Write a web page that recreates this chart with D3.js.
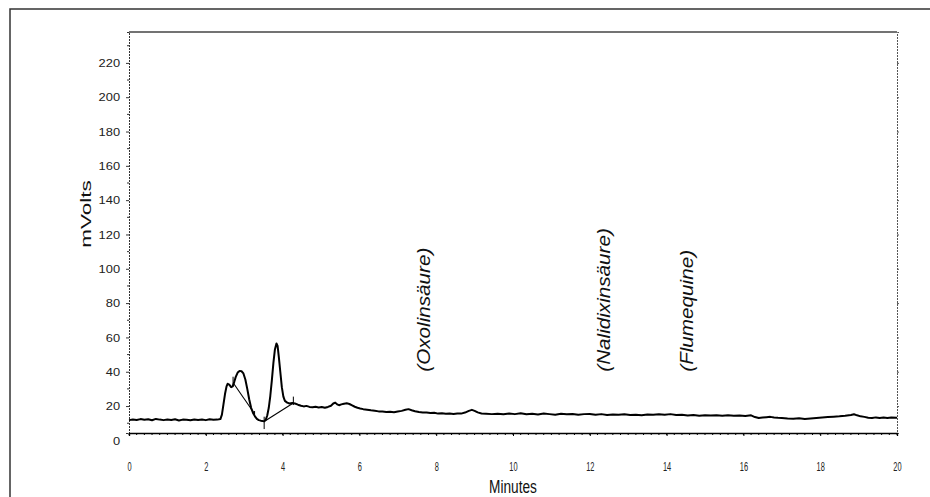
<!DOCTYPE html>
<html>
<head>
<meta charset="utf-8">
<script src="https://cdn.jsdelivr.net/npm/d3@7"></script>
<style>
  body { margin: 0; background: #fff; }
  svg { display: block; font-family: "Liberation Sans", Arial, sans-serif; }
</style>
</head>
<body>
<svg class="chromatogram"></svg>
<script>
// trace (minutes, mVolts)
var times = [0, 0.1, 0.2, 0.3, 0.4, 0.5, 0.6, 0.7, 0.8, 0.9, 1.0, 1.1, 1.2, 1.3, 1.4, 1.5, 1.6, 1.7, 1.8, 1.9, 2.0, 2.1, 2.2, 2.3, 2.38,
	2.42, 2.46, 2.50, 2.54, 2.57, 2.61, 2.66, 2.70, 2.74, 2.78, 2.83, 2.88, 2.93, 2.98, 3.03, 3.08, 3.13, 3.18, 3.23, 3.28, 3.33, 3.38, 3.43, 3.48, 3.52,
	3.56, 3.60, 3.64, 3.68, 3.72, 3.76, 3.80, 3.84, 3.87, 3.90, 3.94, 3.98, 4.02, 4.06, 4.12, 4.18, 4.25, 4.32, 4.40, 4.48, 4.55, 4.62, 4.70, 4.78, 4.86, 4.94,
	5.02, 5.10, 5.18, 5.26, 5.32, 5.37, 5.42, 5.47, 5.53, 5.60, 5.67, 5.74, 5.81, 5.88, 5.95, 6.02, 6.10, 6.20, 6.30, 6.40, 6.50, 6.60, 6.70, 6.80, 6.90,
	7.00, 7.10, 7.20, 7.28, 7.36, 7.45, 7.55, 7.65, 7.75, 7.85, 7.95, 8.05, 8.15, 8.25, 8.35, 8.45, 8.55, 8.65, 8.75, 8.85, 8.93, 9.00, 9.08, 9.18, 9.30,
	9.45, 9.60, 9.75, 9.90, 10.05, 10.20, 10.35, 10.50, 10.65, 10.80, 10.95, 11.10, 11.25, 11.40, 11.55, 11.70, 11.85, 12.00, 12.15, 12.30, 12.45, 12.60,
	12.75, 12.90, 13.05, 13.20, 13.35, 13.50, 13.65, 13.80, 13.95, 14.10, 14.25, 14.40, 14.55, 14.70, 14.85, 15.00, 15.15, 15.30, 15.45, 15.60, 15.75,
	15.90, 16.05, 16.20, 16.30, 16.40, 16.50, 16.60, 16.70, 16.80, 16.90, 17.00, 17.15, 17.30, 17.45, 17.60, 17.75, 17.90, 18.05, 18.20, 18.35, 18.50,
	18.65, 18.80, 18.88, 18.96, 19.05, 19.15, 19.25, 19.35, 19.45, 19.55, 19.65, 19.75, 19.85, 20.00];
var mvolts = [11.8, 12.2, 11.9, 12.4, 12.0, 12.3, 11.7, 12.5, 12.1, 11.8, 12.2, 11.9, 12.3, 11.6, 12.1, 12.0, 11.7, 12.2, 11.9, 12.1, 11.8, 12.3, 12.0, 12.1, 12.4,
	15, 21, 27, 31.5, 33, 32.5, 31.0, 31.5, 34, 37, 39.5, 40.5, 40.3, 39, 35.5, 30, 24, 19, 16, 14, 12.5, 11.8, 11.5, 11.3, 11.2,
	12, 14.5, 19, 26, 35, 45, 53, 56.5, 55, 49, 40, 31, 25.5, 23, 22, 21.5, 21.8, 21.5, 20.8, 20.2, 19.8, 20.1, 19.5, 19.3, 19.6, 19.2,
	19.4, 19.0, 19.5, 20.2, 21.5, 22.0, 21.0, 20.5, 21.0, 21.4, 21.6, 21.2, 20.4, 19.6, 19.0, 18.6, 18.2, 17.9, 17.5, 17.2, 16.9, 16.8, 16.5, 16.7, 16.4,
	16.8, 17.2, 17.8, 18.2, 17.6, 17.0, 16.5, 16.3, 16.2, 15.9, 16.1, 15.6, 15.8, 15.5, 15.6, 15.4, 15.7, 15.6, 16.2, 17.2, 17.8, 17.2, 16.3, 15.7, 15.5,
	15.3, 15.5, 15.2, 15.6, 15.3, 15.8, 15.2, 15.5, 15.1, 15.6, 15.3, 15.0, 15.5, 15.2, 15.4, 14.9, 15.3, 15.4, 15.0, 15.3, 14.8, 15.1,
	14.9, 15.2, 14.8, 15.0, 14.7, 15.1, 14.9, 15.2, 15.0, 15.3, 14.8, 14.9, 14.5, 14.8, 14.4, 14.7, 14.5, 14.6, 14.3, 14.6, 14.4,
	14.5, 14.2, 14.6, 13.6, 13.0, 13.3, 13.5, 13.7, 13.4, 13.2, 13.1, 12.8, 12.6, 12.9, 12.5, 12.8, 13.1, 13.4, 13.6, 13.8, 14.0,
	14.3, 14.8, 15.2, 14.6, 14.0, 13.7, 13.2, 13.0, 13.4, 13.1, 13.3, 13.0, 13.3, 13.2];

// integration baselines drawn by the software
var baselineStart = [[2.72, 33.3], [3.52, 11.0]];
var baselineEnd = [[3.27, 15.5], [4.27, 21.6]];
// peak start/stop marks: time, low, high
var markTimes = [2.71, 3.27, 3.52, 4.28];
var markLow = [31.3, 15.4, 6.6, 20.6];
var markHigh = [37.1, 17.1, 13.8, 25.5];

// expected peak names (minutes)
var peakNames = ["(Oxolinsäure)", "(Nalidixinsäure)", "(Flumequine)"];
var peakTimes = [7.84, 12.52, 14.69];

var xTicks = d3.range(0, 20.001, 2);
var yTicks = d3.range(0, 220.001, 20);

var width = 930;
var height = 497;

var svg = d3.select(".chromatogram")
	.attr("width", width)
	.attr("height", height);

var x = d3.scaleLinear().domain([0, 20]).range([129, 897]);
var y = d3.scaleLinear().domain([4.3, 238]).range([433, 32]);

// outer frame
svg.append("rect")
	.attr("x", 10).attr("y", 9)
	.attr("width", 1000).attr("height", 600)
	.attr("fill", "none")
	.attr("stroke", "#333")
	.attr("stroke-width", 1.5);

// top border of plot
svg.append("line")
	.attr("x1", x(0)).attr("x2", x(20))
	.attr("y1", y.range()[1]).attr("y2", y.range()[1])
	.attr("stroke", "#444").attr("stroke-width", 1.3);

// left axis
var yAxis = svg.append("g")
	.attr("transform", "translate(" + x(0) + ",0)")
	.call(d3.axisLeft(y).tickValues(yTicks).tickSize(3).tickPadding(5).tickFormat(d3.format("d")));
yAxis.select(".domain").attr("stroke", "#333").attr("stroke-dasharray", "2,1");
yAxis.selectAll(".tick line").attr("stroke", "#333");
yAxis.selectAll(".tick").filter(function(d) { return d === 0; }).select("line").remove();
yAxis.selectAll(".tick text")
	.attr("font-size", 11.5)
	.attr("fill", "#222")
	.attr("transform", "scale(1.12,1)");

// minor y ticks
svg.append("g")
	.selectAll("line")
	.data(d3.range(10, 230.001, 20))
	.enter()
	.append("line")
		.attr("x1", x(0) - 2).attr("x2", x(0))
		.attr("y1", function(d) { return y(d); })
		.attr("y2", function(d) { return y(d); })
		.attr("stroke", "#333");

// right axis
var rAxis = svg.append("g")
	.attr("transform", "translate(" + x(20) + ",0)")
	.call(d3.axisRight(y).tickValues(d3.range(20, 230.001, 20)).tickSize(2).tickFormat(""));
rAxis.select(".domain").attr("stroke", "#555").attr("stroke-dasharray", "2,1");
rAxis.selectAll(".tick line").attr("stroke", "#555");

// bottom axis
var xAxis = svg.append("g")
	.attr("transform", "translate(0," + y.range()[0] + ")")
	.call(d3.axisBottom(x).tickValues(xTicks).tickSize(3).tickPadding(26).tickFormat(d3.format("d")));
xAxis.select(".domain").attr("stroke", "#000").attr("stroke-width", 1.3);
xAxis.selectAll(".tick text")
	.attr("font-size", 12)
	.attr("fill", "#222")
	.attr("transform", "scale(0.62,1)");

svg.append("g")
	.attr("transform", "translate(0," + y.range()[0] + ")")
	.selectAll("line")
	.data(d3.range(0, 20.001, 0.2))
	.enter()
	.append("line")
		.attr("x1", function(d) { return x(d); })
		.attr("x2", function(d) { return x(d); })
		.attr("y1", 0).attr("y2", 2)
		.attr("stroke", "#000");

// axis titles
svg.append("text")
	.attr("transform", "translate(513,492.5) scale(0.72,1)")
	.attr("text-anchor", "middle")
	.attr("font-size", 19)
	.attr("fill", "#111")
	.text("Minutes");

svg.append("text")
	.attr("transform", "translate(90.5,214) rotate(-90) scale(1.5,1)")
	.attr("text-anchor", "middle")
	.attr("font-size", 15)
	.attr("fill", "#111")
	.text("mVolts");

// trace
var trace = d3.zip(times, mvolts);
var line = d3.line()
	.x(function(d) { return x(d[0]); })
	.y(function(d) { return y(d[1]); });

svg.append("path")
	.datum(trace)
	.attr("d", line)
	.attr("fill", "none")
	.attr("stroke", "#000")
	.attr("stroke-width", 2)
	.attr("stroke-linejoin", "round");

// integration baselines
svg.append("g")
	.selectAll("line")
	.data(d3.zip(baselineStart, baselineEnd))
	.enter()
	.append("line")
		.attr("x1", function(d) { return x(d[0][0]); })
		.attr("y1", function(d) { return y(d[0][1]); })
		.attr("x2", function(d) { return x(d[1][0]); })
		.attr("y2", function(d) { return y(d[1][1]); })
		.attr("stroke", "#000")
		.attr("stroke-width", 1.1);

svg.append("g")
	.selectAll("line")
	.data(d3.zip(markTimes, markLow, markHigh))
	.enter()
	.append("line")
		.attr("x1", function(d) { return x(d[0]); })
		.attr("x2", function(d) { return x(d[0]); })
		.attr("y1", function(d) { return y(d[1]); })
		.attr("y2", function(d) { return y(d[2]); })
		.attr("stroke", "#000")
		.attr("stroke-width", 1);

// peak names
svg.append("g")
	.selectAll("text")
	.data(d3.zip(peakNames, peakTimes))
	.enter()
	.append("text")
		.attr("transform", function(d) { return "translate(" + x(d[1]) + "," + y(40) + ") rotate(-90) scale(1.15,1)"; })
		.attr("font-size", 18)
		.attr("font-style", "italic")
		.attr("fill", "#111")
		.text(function(d) { return d[0]; });
</script>
</body>
</html>
